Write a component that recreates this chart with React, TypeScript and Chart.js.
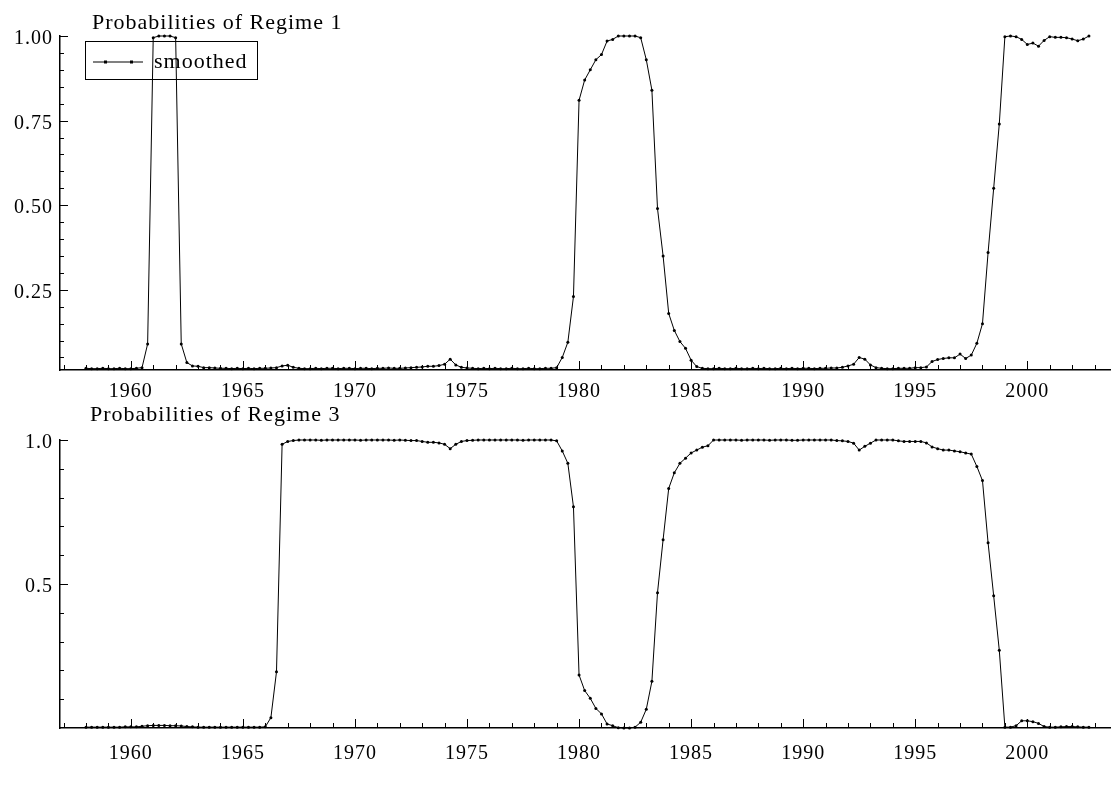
import { useEffect, useRef } from 'react';
import { Chart, registerables } from 'chart.js';

Chart.register(...registerables);

// ---------------- data ----------------
const START_YEAR = 1958;
const PERIODS_PER_YEAR = 4;

// Smoothed probabilities of regime 1, quarterly 1958Q1 - 2002Q4
const REGIME1_SMOOTHED = [
  0.018, 0.017, 0.017, 0.018, // 1958
  0.017, 0.017, 0.018, 0.017, // 1959
  0.017, 0.018, 0.020, 0.090, // 1960
  0.995, 1.0, 1.0, 1.0, // 1961
  0.995, 0.090, 0.035, 0.025, // 1962
  0.024, 0.020, 0.020, 0.019, // 1963
  0.018, 0.018, 0.017, 0.018, // 1964
  0.017, 0.018, 0.017, 0.018, // 1965
  0.018, 0.019, 0.020, 0.025, // 1966
  0.027, 0.021, 0.018, 0.017, // 1967
  0.017, 0.018, 0.017, 0.018, // 1968
  0.018, 0.017, 0.018, 0.018, // 1969
  0.017, 0.018, 0.018, 0.017, // 1970
  0.018, 0.018, 0.019, 0.018, // 1971
  0.018, 0.019, 0.020, 0.021, // 1972
  0.022, 0.024, 0.024, 0.026, // 1973
  0.030, 0.045, 0.028, 0.021, // 1974
  0.019, 0.018, 0.017, 0.018, // 1975
  0.017, 0.018, 0.017, 0.017, // 1976
  0.018, 0.017, 0.017, 0.018, // 1977
  0.017, 0.017, 0.018, 0.018, // 1978
  0.020, 0.050, 0.095, 0.230, // 1979
  0.810, 0.870, 0.900, 0.930, // 1980
  0.945, 0.985, 0.990, 1.0, // 1981
  1.0, 1.0, 1.0, 0.995, // 1982
  0.930, 0.840, 0.490, 0.350, // 1983
  0.180, 0.130, 0.097, 0.077, // 1984
  0.042, 0.023, 0.018, 0.017, // 1985
  0.017, 0.018, 0.017, 0.017, // 1986
  0.018, 0.017, 0.017, 0.018, // 1987
  0.017, 0.018, 0.017, 0.017, // 1988
  0.018, 0.017, 0.018, 0.017, // 1989
  0.018, 0.018, 0.017, 0.018, // 1990
  0.018, 0.019, 0.019, 0.021, // 1991
  0.025, 0.030, 0.050, 0.045, // 1992
  0.028, 0.020, 0.018, 0.017, // 1993
  0.017, 0.018, 0.018, 0.018, // 1994
  0.020, 0.020, 0.022, 0.038, // 1995
  0.044, 0.047, 0.049, 0.049, // 1996
  0.060, 0.047, 0.057, 0.092, // 1997
  0.150, 0.360, 0.550, 0.740, // 1998
  0.998, 1.0, 0.998, 0.990, // 1999
  0.975, 0.979, 0.970, 0.987, // 2000
  0.998, 0.996, 0.996, 0.995, // 2001
  0.991, 0.986, 0.991, 1.0, // 2002
];

// Smoothed probabilities of regime 3, quarterly 1958Q1 - 2002Q4
const REGIME3_SMOOTHED = [
  0.003, 0.003, 0.003, 0.003, // 1958
  0.003, 0.003, 0.003, 0.004, // 1959
  0.004, 0.004, 0.006, 0.008, // 1960
  0.009, 0.009, 0.009, 0.008, // 1961
  0.008, 0.007, 0.005, 0.004, // 1962
  0.003, 0.003, 0.003, 0.003, // 1963
  0.003, 0.003, 0.003, 0.003, // 1964
  0.003, 0.003, 0.003, 0.003, // 1965
  0.004, 0.036, 0.195, 0.985, // 1966
  0.995, 0.998, 1.0, 1.0, // 1967
  1.0, 1.0, 0.999, 1.0, // 1968
  1.0, 1.0, 1.0, 1.0, // 1969
  1.0, 0.999, 1.0, 1.0, // 1970
  1.0, 1.0, 1.0, 0.999, // 1971
  1.0, 0.999, 0.998, 0.998, // 1972
  0.995, 0.992, 0.992, 0.990, // 1973
  0.985, 0.970, 0.985, 0.995, // 1974
  0.998, 0.999, 1.0, 1.0, // 1975
  1.0, 1.0, 1.0, 1.0, // 1976
  1.0, 1.0, 0.999, 1.0, // 1977
  1.0, 1.0, 1.0, 1.0, // 1978
  0.997, 0.962, 0.919, 0.768, // 1979
  0.184, 0.130, 0.103, 0.068, // 1980
  0.049, 0.014, 0.008, 0.001, // 1981
  0.0, 0.0, 0.003, 0.020, // 1982
  0.065, 0.162, 0.470, 0.654, // 1983
  0.832, 0.886, 0.919, 0.937, // 1984
  0.955, 0.965, 0.975, 0.980, // 1985
  1.0, 1.0, 1.0, 1.0, // 1986
  1.0, 0.999, 1.0, 1.0, // 1987
  1.0, 1.0, 0.999, 1.0, // 1988
  1.0, 1.0, 0.999, 0.999, // 1989
  1.0, 1.0, 1.0, 1.0, // 1990
  1.0, 1.0, 0.998, 0.997, // 1991
  0.995, 0.989, 0.965, 0.978, // 1992
  0.989, 1.0, 1.0, 1.0, // 1993
  1.0, 0.997, 0.995, 0.995, // 1994
  0.995, 0.995, 0.990, 0.976, // 1995
  0.970, 0.965, 0.965, 0.962, // 1996
  0.959, 0.955, 0.951, 0.908, // 1997
  0.859, 0.643, 0.459, 0.270, // 1998
  0.003, 0.003, 0.008, 0.025, // 1999
  0.025, 0.022, 0.016, 0.005, // 2000
  0.003, 0.003, 0.004, 0.005, // 2001
  0.005, 0.004, 0.003, 0.003, // 2002
];

const X_MIN = 1956.84;
const X_MAX = 2003.69;
const X_LABEL_YEARS = [1960, 1965, 1970, 1975, 1980, 1985, 1990, 1995, 2000];
const X_MINOR_FIRST = 1957;
const X_MINOR_LAST = 2003;

const Y1_MIN = 0.013;
const Y1_MAX = 1.0;
const Y1_LABEL_VALUES = [0.25, 0.5, 0.75, 1.0];
const Y1_LABELS = ['0.25', '0.50', '0.75', '1.00'];
const Y1_MINOR_STEP = 0.05;

const Y3_MIN = 0;
const Y3_MAX = 1.0;
const Y3_LABEL_VALUES = [0.5, 1.0];
const Y3_LABELS = ['0.5', '1.0'];
const Y3_MINOR_STEP = 0.1;

const TITLE_1 = 'Probabilities of Regime 1';
const TITLE_3 = 'Probabilities of Regime 3';
const LEGEND_LABEL = 'smoothed';

// ---------------- style ----------------
const FONT = "'Liberation Serif', 'Times New Roman', serif";
const LETTER_SPACING = '1px';

const DATES = REGIME1_SMOOTHED.map((_, i) => START_YEAR + i / PERIODS_PER_YEAR);

function stepValues(min: number, max: number, step: number): number[] {
  const out: number[] = [];
  for (let k = Math.ceil(min / step - 1e-9); k * step <= max + 1e-9; k++) {
    out.push(Math.round(k * step * 10000) / 10000);
  }
  return out;
}

const near = (list: number[], v: number) => list.some((m) => Math.abs(m - v) < 1e-6);

const letterSpacingPlugin = {
  id: 'letterSpacing',
  beforeUpdate(chart: any) {
    chart.ctx.letterSpacing = LETTER_SPACING;
  },
  beforeDraw(chart: any) {
    chart.ctx.letterSpacing = LETTER_SPACING;
  },
};

const panelTitlePlugin = {
  id: 'panelTitle',
  afterDraw(chart: any, _args: any, opts: any) {
    const ctx = chart.ctx;
    ctx.save();
    ctx.font = `${opts.size}px ${FONT}`;
    ctx.fillStyle = '#000';
    ctx.textAlign = 'left';
    ctx.textBaseline = 'alphabetic';
    ctx.fillText(opts.text, opts.x, opts.y);
    ctx.restore();
  },
};

const inwardTicksPlugin = {
  id: 'inwardTicks',
  afterDraw(chart: any, _args: any, opts: any) {
    const { ctx, chartArea } = chart;
    const xs = chart.scales.x;
    const ys = chart.scales.y;
    ctx.save();
    ctx.strokeStyle = '#000';
    ctx.lineWidth = 1;
    ctx.beginPath();
    xs.ticks.forEach((t: any) => {
      const px = Math.round(xs.getPixelForValue(t.value)) + 0.5;
      const len = near(opts.xMajor, t.value) ? 9 : 5;
      ctx.moveTo(px, chartArea.bottom);
      ctx.lineTo(px, chartArea.bottom - len);
    });
    ys.ticks.forEach((t: any) => {
      const py = Math.round(ys.getPixelForValue(t.value)) + 0.5;
      const len = near(opts.yMajor, t.value) ? 8 : 4;
      ctx.moveTo(chartArea.left, py);
      ctx.lineTo(chartArea.left + len, py);
    });
    ctx.stroke();
    ctx.restore();
  },
};

const legendFramePlugin = {
  id: 'legendFrame',
  beforeDraw(chart: any, _args: any, opts: any) {
    if (!opts.show || !chart.legend) return;
    const lg = chart.legend;
    lg.left = opts.itemLeft;
    lg.top = opts.itemTop;
    lg.right = chart.chartArea.right;
    lg.bottom = chart.chartArea.bottom;
  },
  afterDraw(chart: any, _args: any, opts: any) {
    if (!opts.show) return;
    const ctx = chart.ctx;
    ctx.save();
    ctx.strokeStyle = '#000';
    ctx.lineWidth = 1;
    ctx.strokeRect(opts.left + 0.5, opts.top + 0.5, opts.width, opts.height);
    ctx.restore();
  },
};

function makeLegendMarker(): HTMLCanvasElement {
  const c = document.createElement('canvas');
  c.width = 50;
  c.height = 7;
  const g = c.getContext('2d')!;
  g.strokeStyle = '#000';
  g.lineWidth = 1;
  g.beginPath();
  g.moveTo(0, 3.5);
  g.lineTo(50, 3.5);
  g.stroke();
  g.fillStyle = '#000';
  g.fillRect(11, 2, 3, 3);
  g.fillRect(37, 2, 3, 3);
  return c;
}

interface PanelSpec {
  values: number[];
  yMin: number;
  yMax: number;
  yLabelValues: number[];
  yLabels: string[];
  yMinorStep: number;
  title: string;
  titleX: number;
  titleBaseline: number;
  topPad: number;
  xAxisHeight: number;
  xLabelPadding: number;
  legend: boolean;
  marker: HTMLCanvasElement;
}

function buildConfig(p: PanelSpec): any {
  const xTicks = stepValues(X_MINOR_FIRST, X_MINOR_LAST, 1);
  const yTicks = stepValues(p.yMinorStep, p.yMax, p.yMinorStep);
  return {
    type: 'line',
    data: {
      datasets: [
        {
          label: LEGEND_LABEL,
          data: DATES.map((d, i) => ({ x: d, y: p.values[i] })),
          borderColor: '#000',
          backgroundColor: '#000',
          borderWidth: 1,
          pointRadius: 1.5,
          pointBorderWidth: 0,
          pointBackgroundColor: '#000',
          tension: 0,
          fill: false,
          clip: false,
        },
      ],
    },
    options: {
      responsive: false,
      animation: false,
      events: [],
      layout: { padding: { top: p.topPad, left: 0, right: 0, bottom: 0 } },
      scales: {
        x: {
          type: 'linear',
          min: X_MIN,
          max: X_MAX,
          afterBuildTicks: (s: any) => {
            s.ticks = xTicks.map((v) => ({ value: v }));
          },
          afterFit: (s: any) => {
            s.height = p.xAxisHeight;
          },
          ticks: {
            autoSkip: false,
            maxRotation: 0,
            padding: p.xLabelPadding,
            color: '#000',
            font: { family: FONT, size: 20 },
            callback: (v: number) => (near(X_LABEL_YEARS, v) ? String(Math.round(v)) : ''),
          },
          grid: { display: false, drawTicks: false },
          border: { display: true, color: '#000', width: 1.5 },
        },
        y: {
          type: 'linear',
          min: p.yMin,
          max: p.yMax,
          afterBuildTicks: (s: any) => {
            s.ticks = yTicks.map((v) => ({ value: v }));
          },
          afterFit: (s: any) => {
            s.width = 60;
          },
          ticks: {
            autoSkip: false,
            padding: 7,
            labelOffset: 3,
            color: '#000',
            font: { family: FONT, size: 20 },
            callback: (v: number) => {
              const idx = p.yLabelValues.findIndex((m) => Math.abs(m - v) < 1e-6);
              return idx >= 0 ? p.yLabels[idx] : '';
            },
          },
          grid: { display: false, drawTicks: false },
          border: { display: true, color: '#000', width: 1.5 },
        },
      },
      plugins: {
        title: { display: false },
        tooltip: { enabled: false },
        legend: {
          display: p.legend,
          position: 'chartArea',
          align: 'start',
          labels: {
            usePointStyle: true,
            pointStyle: p.marker,
            pointStyleWidth: 50,
            boxHeight: 22,
            padding: 8,
            color: '#000',
            font: { family: FONT, size: 22 },
          },
        },
        panelTitle: { text: p.title, x: p.titleX, y: p.titleBaseline, size: 22 },
        inwardTicks: { xMajor: X_LABEL_YEARS, yMajor: p.yLabelValues },
        legendFrame: {
          show: p.legend,
          itemLeft: 85,
          itemTop: 43,
          left: 85,
          top: 41,
          width: 172,
          height: 38,
        },
      },
    },
    plugins: [letterSpacingPlugin, panelTitlePlugin, inwardTicksPlugin, legendFramePlugin],
  };
}

export default function App() {
  const topRef = useRef<HTMLCanvasElement>(null);
  const bottomRef = useRef<HTMLCanvasElement>(null);

  useEffect(() => {
    const marker = makeLegendMarker();
    const top = new Chart(
      topRef.current!,
      buildConfig({
        values: REGIME1_SMOOTHED,
        yMin: Y1_MIN,
        yMax: Y1_MAX,
        yLabelValues: Y1_LABEL_VALUES,
        yLabels: Y1_LABELS,
        yMinorStep: Y1_MINOR_STEP,
        title: TITLE_1,
        titleX: 92,
        titleBaseline: 29,
        topPad: 36,
        xAxisHeight: 30,
        xLabelPadding: 10,
        legend: true,
        marker,
      })
    );
    const bottom = new Chart(
      bottomRef.current!,
      buildConfig({
        values: REGIME3_SMOOTHED,
        yMin: Y3_MIN,
        yMax: Y3_MAX,
        yLabelValues: Y3_LABEL_VALUES,
        yLabels: Y3_LABELS,
        yMinorStep: Y3_MINOR_STEP,
        title: TITLE_3,
        titleX: 90,
        titleBaseline: 21,
        topPad: 40,
        xAxisHeight: 67,
        xLabelPadding: 14,
        legend: false,
        marker,
      })
    );
    return () => {
      top.destroy();
      bottom.destroy();
    };
  }, []);

  return (
    <div
      style={{
        position: 'fixed',
        left: 0,
        top: 0,
        width: 1114,
        height: 795,
        background: '#fff',
        overflow: 'hidden',
      }}
    >
      <canvas ref={topRef} width={1114} height={400} style={{ display: 'block' }} />
      <canvas ref={bottomRef} width={1114} height={395} style={{ display: 'block' }} />
    </div>
  );
}
